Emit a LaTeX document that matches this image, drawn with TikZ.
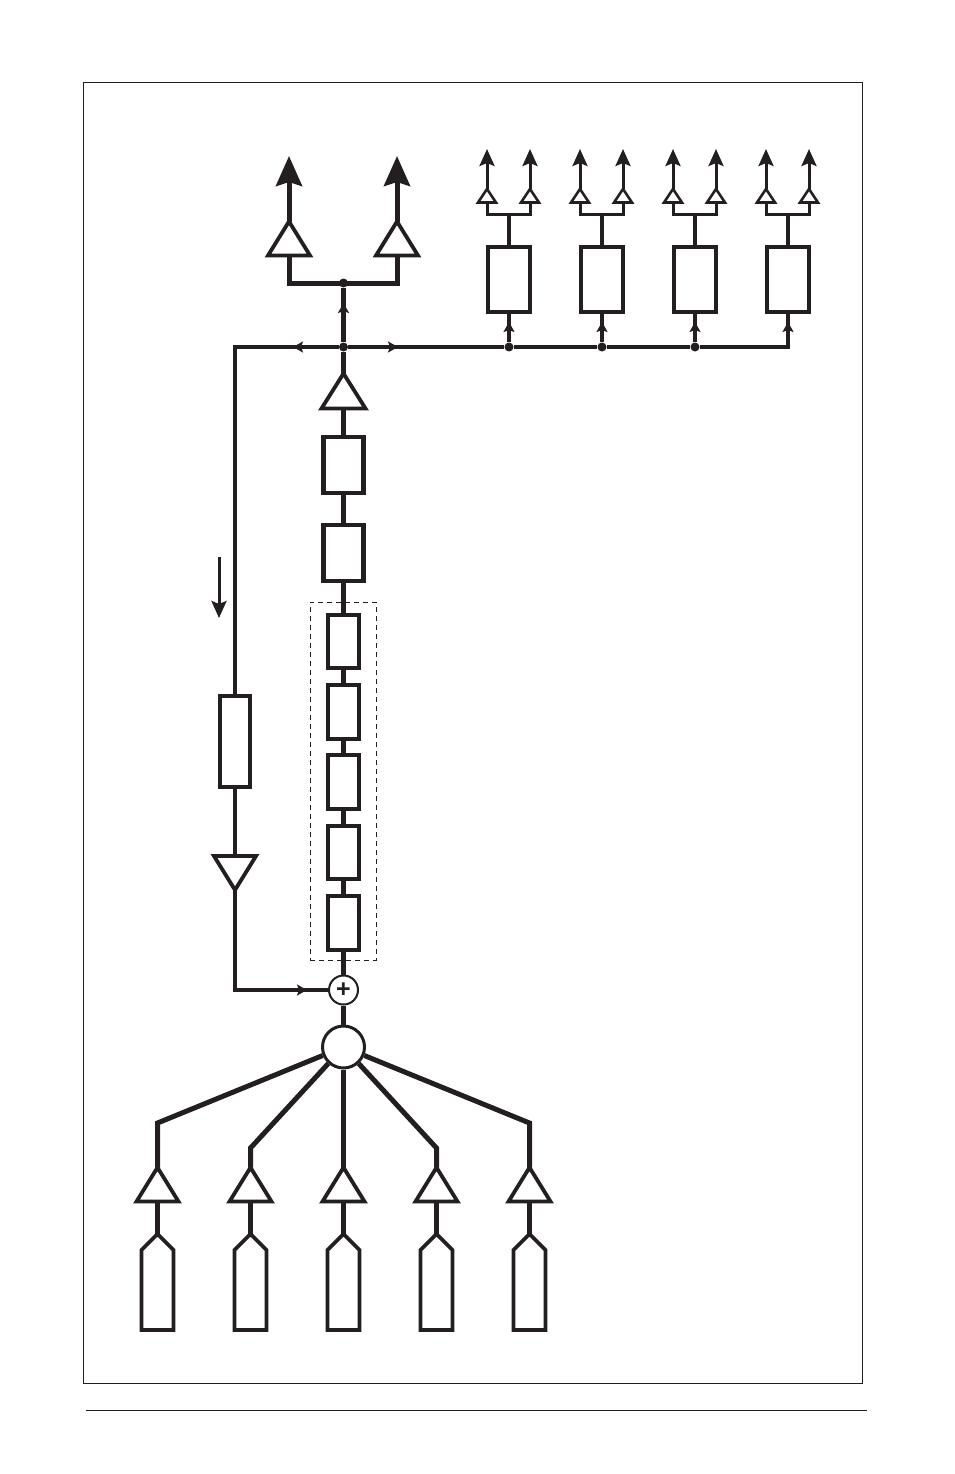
\documentclass[tikz,border=0pt]{standalone}
\usepackage{fontspec}
\setmainfont{Liberation Sans}
\usetikzlibrary{arrows.meta,shapes.geometric,shapes.symbols}
\definecolor{ink}{HTML}{231F20}

\tikzset{
  amp/.style={draw=ink, fill=white, isosceles triangle, isosceles triangle stretches, shape border rotate=90,
    inner sep=0pt, outer sep=0pt, line width=3.8pt, minimum width=42pt, minimum height=34pt, anchor=apex},
  tinyamp/.style={amp, line width=2.6pt, minimum width=18pt, minimum height=13.5pt},
  downamp/.style={amp, shape border rotate=-90},
  box/.style={draw=ink, fill=white, rectangle, inner sep=0pt, outer sep=0pt, line width=4.5pt, minimum width=42pt, minimum height=65pt},
  midbox/.style={box, minimum width=40pt, minimum height=56pt},
  smallbox/.style={box, line width=3.8pt, minimum width=31.5pt, minimum height=53.5pt},
  source/.style={draw=ink, fill=white, signal, signal to=north, signal from=nowhere, signal pointer angle=90,
    inner sep=0pt, outer sep=0pt, line width=3.8pt, minimum width=32pt, minimum height=80pt},
  dot/.style={circle, fill=ink, inner sep=0pt, minimum size=9pt},
  wire/.style={draw, color=ink, line width=5pt},
  thinwire/.style={draw, color=ink, line width=3.6pt},
  tip/.style={-{Stealth[length=10pt,width=11pt,inset=2pt]}},
  bigtip/.style={-{Stealth[length=30pt,width=26pt,inset=4pt]}},
  smalltip/.style={-{Stealth[length=17pt,width=15pt,inset=3pt]}},
}

\begin{document}
\begin{tikzpicture}[x=1pt,y=-1pt]
  \useasboundingbox (0,0) rectangle (954,1474);
  \node[draw=ink, line width=1pt, inner sep=0pt, minimum width=779pt, minimum height=1300pt] (frame) at (472.5,733) {};
  \coordinate (ruleL) at (86,1410);
  \coordinate (ruleR) at (867,1410);
  \draw[ink, line width=1pt] (ruleL) -- (ruleR);
  \node[draw=ink, dash pattern=on 5pt off 4pt, line width=.8pt, inner sep=0pt, minimum width=66pt, minimum height=358pt] (group) at (343,781) {};

  % sources
  \node[source] (s1) at (157.5,1290) {};
  \node[source] (s2) at (250.5,1290) {};
  \node[source] (s3) at (343.5,1290) {};
  \node[source] (s4) at (436.5,1290) {};
  \node[source] (s5) at (529.5,1290) {};
  \node[amp] (a1) at (157.5,1167.5) {};
  \node[amp] (a2) at (250.5,1167.5) {};
  \node[amp] (a3) at (343.5,1167.5) {};
  \node[amp] (a4) at (436.5,1167.5) {};
  \node[amp] (a5) at (529.5,1167.5) {};
  \coordinate (k1) at (157.5,1123);
  \coordinate (k2) at (250.5,1148);
  \coordinate (k4) at (436.5,1148);
  \coordinate (k5) at (529.5,1123);
  \node[draw=ink, fill=white, circle, line width=3pt, inner sep=0pt, minimum size=42pt] (mix) at (343.5,1047) {};
  \node[draw=ink, fill=white, circle, line width=2pt, inner sep=0pt, minimum size=29pt, text=ink, font=\bfseries\fontsize{25}{25}\selectfont] (sum) at (343.5,990) {+};

  % forward chain
  \node[smallbox] (c1) at (343.5,923) {};
  \node[smallbox] (c2) at (343.5,852.5) {};
  \node[smallbox] (c3) at (343.5,782) {};
  \node[smallbox] (c4) at (343.5,712) {};
  \node[smallbox] (c5) at (343.5,641.5) {};
  \node[midbox] (b2) at (343.5,553) {};
  \node[midbox] (b1) at (343.5,465) {};
  \node[amp, minimum width=44pt, minimum height=35pt] (drv) at (343.5,373.5) {};

  % outputs
  \node[amp] (o1) at (289,221.5) {};
  \node[amp] (o2) at (397,221.5) {};
  \coordinate (up1) at (289,156);
  \coordinate (up2) at (397,156);
  \coordinate (barL) at (289,283);
  \coordinate (barR) at (397,283);
  \node[dot] (top) at (343.5,283) {};
  \node[dot] (hub) at (343.5,347) {};
  \coordinate (hubUp) at (343.5,303);
  \coordinate (hubL) at (293,347);
  \coordinate (hubR) at (398,347);

  % branches
  \node[box] (d1) at (509,279.5) {};
  \node[box] (d2) at (602,279.5) {};
  \node[box] (d3) at (695,279.5) {};
  \node[box] (d4) at (788,279.5) {};
  \node[dot] (j1) at (509,347) {};
  \node[dot] (j2) at (602,347) {};
  \node[dot] (j3) at (695,347) {};
  \coordinate (j4) at (788,347);
  \coordinate (m1) at (509,322);
  \coordinate (m2) at (602,322);
  \coordinate (m3) at (695,322);
  \coordinate (m4) at (788,322);
  \node[tinyamp] (t1) at (487,189) {};
  \node[tinyamp] (t2) at (530,189) {};
  \node[tinyamp] (t3) at (580,189) {};
  \node[tinyamp] (t4) at (623,189) {};
  \node[tinyamp] (t5) at (673,189) {};
  \node[tinyamp] (t6) at (716,189) {};
  \node[tinyamp] (t7) at (766,189) {};
  \node[tinyamp] (t8) at (809,189) {};
  \coordinate (f1) at (509,214);
  \coordinate (f2) at (602,214);
  \coordinate (f3) at (695,214);
  \coordinate (f4) at (788,214);
  \coordinate (u1) at (487,149);
  \coordinate (u2) at (530,149);
  \coordinate (u3) at (580,149);
  \coordinate (u4) at (623,149);
  \coordinate (u5) at (673,149);
  \coordinate (u6) at (716,149);
  \coordinate (u7) at (766,149);
  \coordinate (u8) at (809,149);

  % feedback
  \coordinate (fbT) at (235,347);
  \coordinate (fbB) at (235,990);
  \coordinate (fbM) at (307,990);
  \node[box, line width=3.6pt, minimum width=30.5pt, minimum height=91.5pt] (fb) at (235,741.5) {};
  \node[amp, downamp] (fa) at (235,890) {};
  \coordinate (flowA) at (219,557);
  \coordinate (flowB) at (219,618);

  \path[every edge/.append style={wire}]
    (s1.north) edge (a1.lower side)
    (s2.north) edge (a2.lower side)
    (s3.north) edge (a3.lower side)
    (s4.north) edge (a4.lower side)
    (s5.north) edge (a5.lower side)
    (a3.apex) edge (mix)
    (sum) edge (mix)
    (sum) edge (c1)
    (c1) edge (c2) (c2) edge (c3) (c3) edge (c4) (c4) edge (c5) (c5) edge (b2)
    (b2) edge (b1) (b1) edge (drv.lower side) (drv.apex) edge (hub)
    (hub) edge (top)
    (o1.apex) edge[bigtip] (up1) (o2.apex) edge[bigtip] (up2);
  \draw[wire] (mix) -- (k1) -- (a1.apex);
  \draw[wire] (mix) -- (k2) -- (a2.apex);
  \draw[wire] (mix) -- (k4) -- (a4.apex);
  \draw[wire] (mix) -- (k5) -- (a5.apex);
  \draw[wire] (o1.lower side) -- (barL) -- (barR) -- (o2.lower side);
  \draw[thinwire, line width=4pt] (hub) -- (j1) -- (j2) -- (j3) -- (j4) -- (d4);
  \draw[thinwire] (hub) -- (fbT) -- (fb);
  \draw[thinwire] (fb) -- (fa.lower side);
  \draw[thinwire] (fa.apex) -- (fbB) -- (sum);

  % small arrow heads along the wires
  \path[every edge/.append style={thinwire, tip}]
    (hub) edge (hubUp)
    (hub) edge (hubL)
    (hub) edge (hubR)
    (fbB) edge (fbM)
    (j1) edge (m1) (j2) edge (m2) (j3) edge (m3) (j4) edge (m4);
  \path[every edge/.append style={thinwire}]
    (j1) edge (d1) (j2) edge (d2) (j3) edge (d3)
    (d1) edge (f1) (d2) edge (f2) (d3) edge (f3) (d4) edge (f4);
  \draw[thinwire, line width=3pt] (t1.lower side) |- (f1) -| (t2.lower side);
  \draw[thinwire, line width=3pt] (t3.lower side) |- (f2) -| (t4.lower side);
  \draw[thinwire, line width=3pt] (t5.lower side) |- (f3) -| (t6.lower side);
  \draw[thinwire, line width=3pt] (t7.lower side) |- (f4) -| (t8.lower side);
  \path[every edge/.append style={thinwire, line width=3pt, smalltip}]
    (t1.apex) edge (u1) (t2.apex) edge (u2) (t3.apex) edge (u3) (t4.apex) edge (u4)
    (t5.apex) edge (u5) (t6.apex) edge (u6) (t7.apex) edge (u7) (t8.apex) edge (u8);
  \draw[thinwire, line width=3pt, smalltip] (flowA) -- (flowB);
\end{tikzpicture}
\end{document}
